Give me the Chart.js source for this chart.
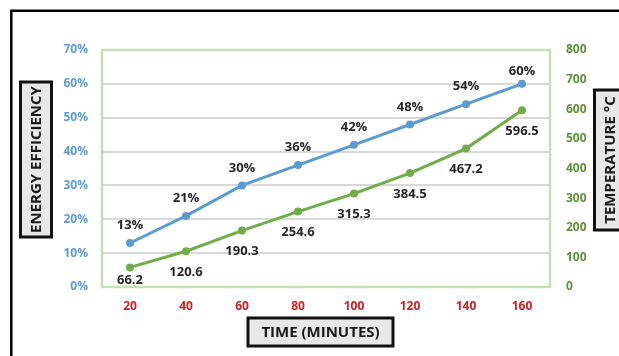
<!DOCTYPE html>
<html>
<head>
<meta charset="utf-8">
<script src="https://cdn.jsdelivr.net/npm/chart.js@4"></script>
<style>
  html, body { margin: 0; padding: 0; background: #fff; }
  #wrap { width: 619px; height: 356px; position: relative; }
</style>
</head>
<body>
<div id="wrap"><canvas id="c" width="619" height="356"></canvas></div>
<script>
// Time in minutes
const timeLabels = ['20', '40', '60', '80', '100', '120', '140', '160'];
// Energy efficiency (%)
const efficiency = [13, 21, 30, 36, 42, 48, 54, 60];
// Temperature (°C)
const temperature = [66.2, 120.6, 190.3, 254.6, 315.3, 384.5, 467.2, 596.5];

const xTitle = 'TIME (MINUTES)';
const yLeftTitle = 'ENERGY EFFICIENCY';
const yRightTitle = 'TEMPERATURE °C';

const BLUE = '#5b9bd5';
const GREEN = '#70ad47';
const FONT = '"Open Sans", Lato, sans-serif';

// Outer frame lines and boxed axis titles
const decorPlugin = {
  id: 'decor',
  beforeDraw(chart) {
    const ctx = chart.ctx;
    ctx.save();
    ctx.fillStyle = '#fff';
    ctx.fillRect(0, 0, chart.width, chart.height);
    ctx.strokeStyle = '#000';
    ctx.lineWidth = 2.5;
    ctx.beginPath();
    ctx.moveTo(11.3, chart.height);
    ctx.lineTo(11.3, 10.7);
    ctx.lineTo(chart.width, 10.7);
    ctx.stroke();
    ctx.restore();
  },
  afterDraw(chart) {
    const ctx = chart.ctx;
    // w is measured along the text, h across it
    const box = (text, cx, cy, w, h, rot) => {
      ctx.save();
      ctx.translate(cx, cy);
      if (rot) ctx.rotate(-Math.PI / 2);
      ctx.fillStyle = '#e8e8e8';
      ctx.fillRect(-w / 2, -h / 2, w, h);
      ctx.strokeStyle = '#111';
      ctx.lineWidth = 3;
      ctx.strokeRect(-w / 2, -h / 2, w, h);
      ctx.fillStyle = '#1a1a1a';
      ctx.font = 'bold 15px ' + FONT;
      ctx.textAlign = 'center';
      ctx.textBaseline = 'middle';
      ctx.fillText(text, 0, 1);
      ctx.restore();
    };
    box(xTitle, 320.5, 332, 145, 28, false);
    box(yLeftTitle, 36, 159.5, 155, 31, true);
    box(yRightTitle, 610, 160, 140, 31, true);
  }
};

// Plot-area border drawn above the grid
const areaBorderPlugin = {
  id: 'areaBorder',
  beforeDatasetsDraw(chart) {
    const a = chart.chartArea, ctx = chart.ctx;
    ctx.save();
    ctx.strokeStyle = '#c5e0b4';
    ctx.lineWidth = 2.5;
    ctx.strokeRect(a.left, a.top, a.right - a.left, a.bottom - a.top);
    ctx.restore();
  }
};

// Value labels: efficiency above its points, temperature below
const valueLabelPlugin = {
  id: 'valueLabels',
  afterDatasetsDraw(chart) {
    const ctx = chart.ctx, a = chart.chartArea;
    ctx.save();
    ctx.font = 'bold 13px ' + FONT;
    ctx.fillStyle = '#262626';
    ctx.textAlign = 'center';
    ctx.textBaseline = 'middle';
    chart.data.datasets.forEach((ds, i) => {
      const meta = chart.getDatasetMeta(i);
      meta.data.forEach((pt, j) => {
        const v = ds.data[j];
        if (ds.yAxisID === 'yEff') {
          const off = Math.min(17.5, pt.y - a.top - 21);
          ctx.fillText(v + '%', pt.x, pt.y - off);
        } else {
          const off = Math.min(21, a.bottom - pt.y - 7);
          ctx.fillText(v.toFixed(1), pt.x, pt.y + off);
        }
      });
    });
    ctx.restore();
  }
};

new Chart(document.getElementById('c'), {
  type: 'line',
  data: {
    labels: timeLabels,
    datasets: [
      {
        label: 'Energy efficiency',
        data: efficiency,
        yAxisID: 'yEff',
        borderColor: BLUE,
        backgroundColor: BLUE,
        borderWidth: 3,
        pointRadius: 4,
        pointBorderWidth: 0,
        tension: 0
      },
      {
        label: 'Temperature',
        data: temperature,
        yAxisID: 'yTemp',
        borderColor: GREEN,
        backgroundColor: GREEN,
        borderWidth: 3,
        pointRadius: 4,
        pointBorderWidth: 0,
        tension: 0
      }
    ]
  },
  options: {
    responsive: false,
    animation: false,
    devicePixelRatio: 1,
    layout: { padding: { top: 50, left: 0, right: 0, bottom: 0 } },
    plugins: {
      legend: { display: false },
      tooltip: { enabled: false }
    },
    scales: {
      x: {
        offset: true,
        grid: { display: false, drawTicks: false },
        border: { display: false },
        ticks: {
          color: '#cc1f1f',
          font: { family: FONT, size: 12, weight: 'bold' },
          padding: 12,
          maxRotation: 0
        },
        afterFit(s) { s.height = 69; }
      },
      yEff: {
        position: 'left',
        min: 0,
        max: 70,
        ticks: {
          stepSize: 10,
          color: BLUE,
          font: { family: FONT, size: 12, weight: 'bold' },
          padding: 14,
          callback: v => v + '%'
        },
        grid: { color: '#d9d9d9', lineWidth: 2, drawTicks: false },
        border: { display: false },
        afterFit(s) { s.width = 102; }
      },
      yTemp: {
        position: 'right',
        min: 0,
        max: 800,
        ticks: {
          stepSize: 100,
          color: '#5f9138',
          font: { family: FONT, size: 12, weight: 'bold' },
          padding: 16
        },
        grid: { display: false, drawTicks: false },
        border: { display: false },
        afterFit(s) { s.width = 69; }
      }
    }
  },
  plugins: [decorPlugin, areaBorderPlugin, valueLabelPlugin]
});
</script>
</body>
</html>
